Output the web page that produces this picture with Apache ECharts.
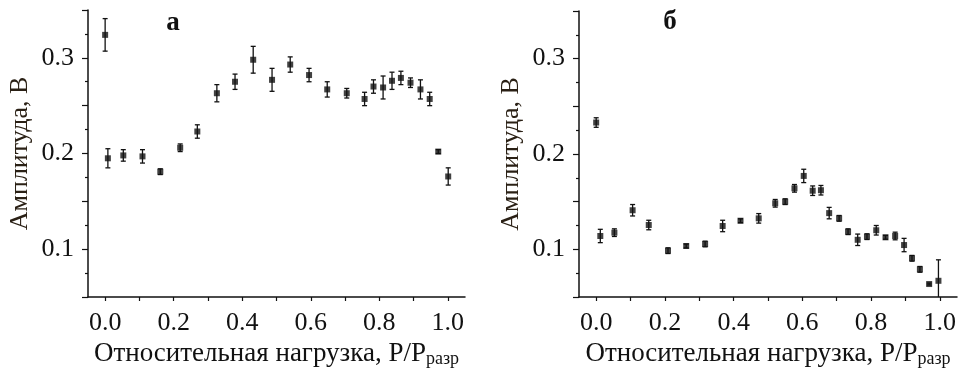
<!DOCTYPE html>
<html>
<head>
<meta charset="utf-8">
<script src="https://cdn.jsdelivr.net/npm/echarts@6.0.0/dist/echarts.min.js"></script>
<style>
  html, body { margin: 0; padding: 0; background: #fff; }
  #main { width: 959px; height: 369px; }
</style>
</head>
<body>
<div id="main"></div>
<script>
// панель а
var xA = [0.0, 0.008, 0.053, 0.109, 0.161, 0.219, 0.269, 0.326, 0.379, 0.432, 0.487, 0.540, 0.595, 0.648, 0.705, 0.757, 0.783, 0.811, 0.837, 0.863, 0.891, 0.920, 0.947, 0.972, 1.001];
var yA = [0.324, 0.195, 0.198, 0.197, 0.181, 0.206, 0.223, 0.263, 0.275, 0.298, 0.277, 0.293, 0.282, 0.267, 0.263, 0.257, 0.270, 0.269, 0.276, 0.279, 0.274, 0.267, 0.257, 0.202, 0.176];
var eA = [0.017, 0.010, 0.006, 0.007, 0.003, 0.004, 0.007, 0.009, 0.008, 0.014, 0.012, 0.008, 0.007, 0.008, 0.005, 0.007, 0.007, 0.012, 0.009, 0.007, 0.005, 0.010, 0.007, 0.002, 0.009];

// панель б
var xB = [0.0, 0.012, 0.053, 0.106, 0.153, 0.209, 0.262, 0.317, 0.368, 0.420, 0.473, 0.521, 0.550, 0.577, 0.604, 0.630, 0.654, 0.678, 0.707, 0.733, 0.761, 0.788, 0.815, 0.842, 0.870, 0.896, 0.919, 0.942, 0.969, 0.996];
var yB = [0.233, 0.114, 0.1175, 0.141, 0.1255, 0.0986, 0.1035, 0.1056, 0.1245, 0.130, 0.1325, 0.1483, 0.150, 0.164, 0.177, 0.1615, 0.162, 0.138, 0.1325, 0.1185, 0.110, 0.1133, 0.120, 0.1126, 0.114, 0.1045, 0.0906, 0.079, 0.0636, 0.067];
var eB = [0.005, 0.007, 0.004, 0.006, 0.005, 0.003, 0.002, 0.003, 0.006, 0.002, 0.005, 0.004, 0.003, 0.004, 0.007, 0.005, 0.005, 0.006, 0.003, 0.003, 0.006, 0.003, 0.005, 0.002, 0.004, 0.007, 0.003, 0.003, 0.001, 0.022];

var xTicks = [0, 0.1, 0.2, 0.3, 0.4, 0.5, 0.6, 0.7, 0.8, 0.9, 1.0];
var xLabels = [0, 0.2, 0.4, 0.6, 0.8, 1.0];
var yLabels = [0.1, 0.2, 0.3];

var font = '"Liberation Serif", "Times New Roman", serif';
var ink = '#111';

function pts(xs, ys) {
  return xs.map(function (x, i) { return [x, ys[i]]; });
}
function bars(xs, ys, es) {
  return xs.map(function (x, i) { return [x, ys[i] - es[i], ys[i] + es[i]]; });
}

function errItem(params, api) {
  var x = api.value(0);
  var top = api.coord([x, api.value(2)]);
  var bot = api.coord([x, api.value(1)]);
  var w = 2.5;
  var st = { stroke: ink, lineWidth: 1.3 };
  return {
    type: 'group',
    children: [
      { type: 'line', shape: { x1: top[0], y1: top[1], x2: bot[0], y2: bot[1] }, style: st },
      { type: 'line', shape: { x1: top[0] - w, y1: top[1], x2: top[0] + w, y2: top[1] }, style: st },
      { type: 'line', shape: { x1: bot[0] - w, y1: bot[1], x2: bot[0] + w, y2: bot[1] }, style: st }
    ]
  };
}

function xAxis(idx) {
  return {
    type: 'value', gridIndex: idx, min: -0.05, max: 1.05,
    name: '{m|Относительная нагрузка, P/P}{s|разр}',
    nameLocation: 'middle', nameGap: 41,
    nameTextStyle: {
      rich: {
        m: { fontFamily: font, fontSize: 27, color: ink },
        s: { fontFamily: font, fontSize: 18, color: ink, padding: [10, 0, 0, 0] }
      }
    },
    axisLine: { show: true, onZero: false, lineStyle: { color: ink, width: 1.5 } },
    axisTick: { show: true, length: 4, customValues: xTicks, lineStyle: { color: ink, width: 1.2 } },
    axisLabel: {
      customValues: xLabels, margin: 13,
      fontFamily: font, fontSize: 26, color: ink,
      formatter: function (v) { return v.toFixed(1); }
    },
    splitLine: { show: false }
  };
}

function yAxis(idx) {
  return {
    type: 'value', gridIndex: idx, min: 0.05, max: 0.35, interval: 0.05,
    name: 'Амплитуда, В',
    nameLocation: 'middle', nameGap: 55, nameRotate: 90,
    nameTextStyle: { fontFamily: font, fontSize: 26, color: '#2a2015' },
    axisLine: { show: true, onZero: false, lineStyle: { color: ink, width: 1.5 } },
    axisTick: { show: true, length: 6, lineStyle: { color: ink, width: 1.2 } },
    minorTick: { show: true, splitNumber: 2, length: 3, lineStyle: { color: ink, width: 1.2 } },
    axisLabel: {
      customValues: yLabels, margin: 14,
      fontFamily: font, fontSize: 26, color: ink,
      formatter: function (v) { return v.toFixed(1); }
    },
    splitLine: { show: false }
  };
}

var chart = echarts.init(document.getElementById('main'));
chart.setOption({
  backgroundColor: '#fff',
  animation: false,
  grid: [
    { left: 88, top: 10, width: 377, height: 287, outerBoundsMode: 'none', containLabel: false },
    { left: 579, top: 11, width: 378, height: 286, outerBoundsMode: 'none', containLabel: false }
  ],
  xAxis: [xAxis(0), xAxis(1)],
  yAxis: [yAxis(0), yAxis(1)],
  graphic: [
    { type: 'text', x: 173, y: 23, style: { text: 'а', font: 'bold 27px ' + font, fill: ink, align: 'center', verticalAlign: 'middle' } },
    { type: 'text', x: 670, y: 22, style: { text: 'б', font: 'bold 27px ' + font, fill: ink, align: 'center', verticalAlign: 'middle' } }
  ],
  series: [
    { type: 'custom', xAxisIndex: 0, yAxisIndex: 0, clip: true, renderItem: errItem, data: bars(xA, yA, eA) },
    { type: 'scatter', xAxisIndex: 0, yAxisIndex: 0, symbol: 'rect', symbolSize: 6, itemStyle: { color: ink }, data: pts(xA, yA) },
    { type: 'custom', xAxisIndex: 1, yAxisIndex: 1, clip: true, renderItem: errItem, data: bars(xB, yB, eB) },
    { type: 'scatter', xAxisIndex: 1, yAxisIndex: 1, symbol: 'rect', symbolSize: 6, itemStyle: { color: ink }, data: pts(xB, yB) }
  ]
});
</script>
</body>
</html>
